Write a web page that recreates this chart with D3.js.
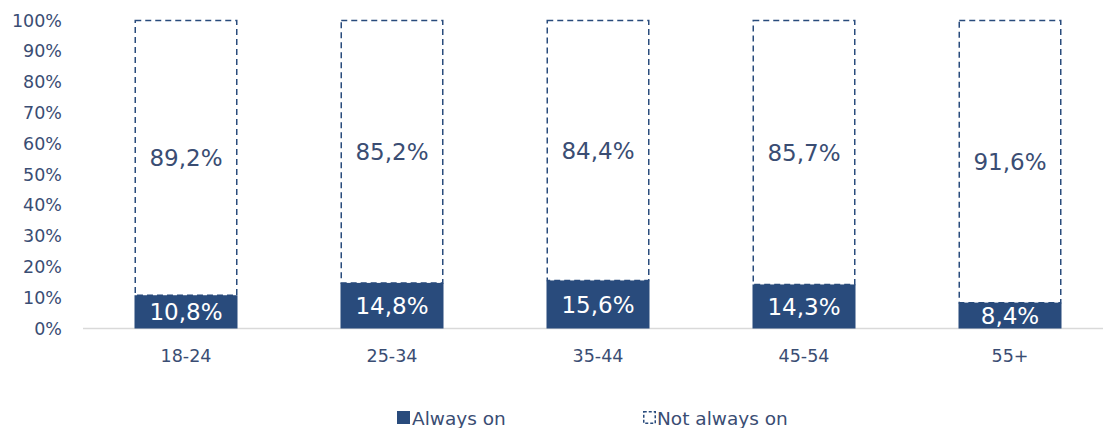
<!DOCTYPE html>
<html>
<head>
<meta charset="utf-8">
<script src="https://cdn.jsdelivr.net/npm/d3@7/dist/d3.min.js"></script>
<style>
  html, body { margin: 0; padding: 0; background: #ffffff; }
  svg { display: block; font-family: "DejaVu Sans", Verdana, sans-serif; }
</style>
</head>
<body>
<svg id="chart" width="1103" height="428"></svg>
<script>
// Age groups and the share of each group in each state (percent)
const ageGroups = ["18-24", "25-34", "35-44", "45-54", "55+"];
const alwaysOn = [10.8, 14.8, 15.6, 14.3, 8.4];
const notAlwaysOn = [89.2, 85.2, 84.4, 85.7, 91.6];
const yTicks = [0, 10, 20, 30, 40, 50, 60, 70, 80, 90, 100];
const seriesNames = ["Always on", "Not always on"];

const navy = "#294b7c";
const textBlue = "#3a4d73";

const rows = ageGroups.map((g, i) => ({ group: g, always: alwaysOn[i], not: notAlwaysOn[i] }));
const stacked = d3.stack().keys(["always", "not"])(rows);

const svg = d3.select("#chart");

const x = d3.scaleBand()
  .domain(ageGroups)
  .range([83, 1113])
  .paddingInner(0.5)
  .paddingOuter(0.25);

const y = d3.scaleLinear().domain([0, 100]).range([328.5, 20.5]);

const locale = d3.formatLocale({ decimal: ",", thousands: ".", grouping: [3], currency: ["", "€"] });
const fmt = v => locale.format(".1f")(v) + "%";

// Baseline
svg.append("line")
  .attr("x1", 83).attr("x2", 1103)
  .attr("y1", y(0)).attr("y2", y(0))
  .attr("stroke", "#d9d9d9").attr("stroke-width", 1.5);

// Y axis (percent ticks)
const yAxis = svg.append("g")
  .attr("transform", "translate(83,0)")
  .call(d3.axisLeft(y).tickValues(yTicks).tickSize(0).tickPadding(21).tickFormat(d => d + "%"));
yAxis.select(".domain").remove();
yAxis.selectAll("text")
  .attr("font-size", 17.5)
  .attr("font-family", "DejaVu Sans, Verdana, sans-serif")
  .attr("fill", textBlue);

// X axis (age groups)
const xAxis = svg.append("g")
  .attr("transform", `translate(0,${y(0)})`)
  .call(d3.axisBottom(x).tickSize(0).tickPadding(0));
xAxis.select(".domain").remove();
xAxis.selectAll("text")
  .attr("y", 33)
  .attr("dy", 0)
  .attr("font-size", 17.5)
  .attr("font-family", "DejaVu Sans, Verdana, sans-serif")
  .attr("fill", textBlue);

// "Not always on" segments: dashed outline only
const notLayer = stacked[1];
svg.append("g").selectAll("rect")
  .data(notLayer)
  .join("rect")
  .attr("x", d => x(d.data.group) + 0.75)
  .attr("width", x.bandwidth() - 1.5)
  .attr("y", d => y(d[1]))
  .attr("height", d => y(d[0]) - y(d[1]))
  .attr("fill", "none")
  .attr("stroke", navy)
  .attr("stroke-width", 1.5)
  .attr("stroke-dasharray", "6,4");

// "Always on" segments: solid fill
const alwaysLayer = stacked[0];
svg.append("g").selectAll("rect")
  .data(alwaysLayer)
  .join("rect")
  .attr("x", d => x(d.data.group))
  .attr("width", x.bandwidth())
  .attr("y", d => y(d[1]))
  .attr("height", d => y(d[0]) - y(d[1]))
  .attr("fill", navy);

// Value labels centred in each segment
svg.append("g").selectAll("text")
  .data(alwaysLayer)
  .join("text")
  .attr("x", d => x(d.data.group) + x.bandwidth() / 2)
  .attr("y", d => (y(d[0]) + y(d[1])) / 2)
  .attr("dy", "0.36em")
  .attr("text-anchor", "middle")
  .attr("font-size", 23)
  .attr("fill", "#ffffff")
  .text(d => fmt(d.data.always));

svg.append("g").selectAll("text")
  .data(notLayer)
  .join("text")
  .attr("x", d => x(d.data.group) + x.bandwidth() / 2)
  .attr("y", d => (y(d[0]) + y(d[1])) / 2)
  .attr("dy", "0.36em")
  .attr("text-anchor", "middle")
  .attr("font-size", 23)
  .attr("fill", textBlue)
  .text(d => fmt(d.data.not));

// Legend
const legend = svg.append("g").attr("font-size", 18.5).attr("fill", textBlue);
const l1 = legend.append("g").attr("transform", "translate(397,411)");
l1.append("rect").attr("width", 13).attr("height", 13).attr("fill", navy);
l1.append("text").attr("x", 15).attr("y", 13.5).text(seriesNames[0]);

const l2 = legend.append("g").attr("transform", "translate(643,411)");
l2.append("rect").attr("x", 0.75).attr("y", 0.75).attr("width", 11.5).attr("height", 11.5)
  .attr("fill", "none").attr("stroke", navy).attr("stroke-width", 1.5).attr("stroke-dasharray", "3,2");
l2.append("text").attr("x", 14).attr("y", 13.5).text(seriesNames[1]);
</script>
</body>
</html>
